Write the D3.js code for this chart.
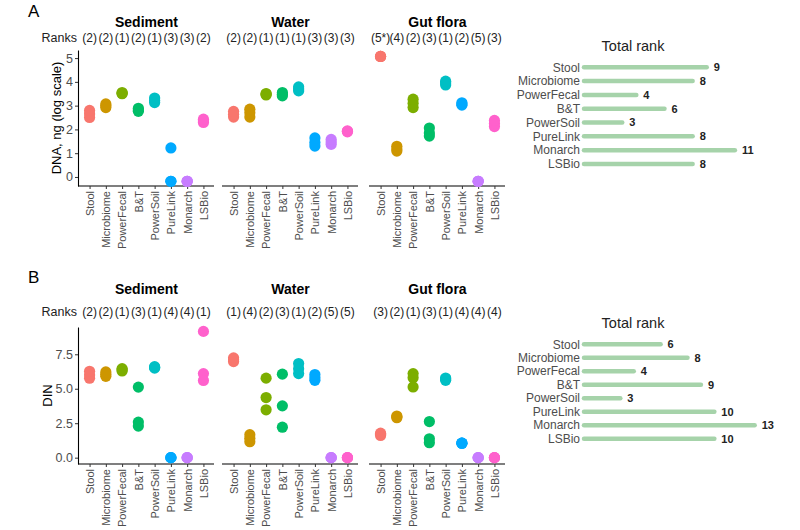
<!DOCTYPE html>
<html>
<head>
<meta charset="utf-8">
<script src="https://cdn.jsdelivr.net/npm/d3@7"></script>
<style>
	body { margin: 0; background: #fff; }
	text { font-family: 'Liberation Sans', Arial, sans-serif; }
</style>
</head>
<body>
<script>
const methods = [ 'Stool', 'Microbiome', 'PowerFecal', 'B&T', 'PowerSoil', 'PureLink', 'Monarch', 'LSBio' ];
const sites = [ 'Sediment', 'Water', 'Gut flora' ];
const methodColors = [ '#F8766D', '#CD9600', '#7CAE00', '#00BE67', '#00BFC4', '#00A9FF', '#C77CFF', '#FF61CC' ];

// A: DNA, ng (log scale) - replicates per method
const dnaSediment = [ [ 2.5, 2.65, 2.8 ], [ 2.92, 3.0, 3.07 ], [ 3.5, 3.52, 3.55 ], [ 2.76, 2.82, 2.89 ], [ 3.13, 3.22, 3.32 ], [ 1.22, -0.18, -0.18 ], [ -0.18, -0.18, -0.18 ], [ 2.29, 2.35, 2.43 ] ];
const dnaWater = [ [ 2.52, 2.64, 2.76 ], [ 2.52, 2.7, 2.85 ], [ 3.45, 3.48, 3.51 ], [ 3.41, 3.48, 3.55 ], [ 3.62, 3.7, 3.79 ], [ 1.3, 1.45, 1.64 ], [ 1.37, 1.47, 1.58 ], [ 1.9, 1.92, 1.94 ] ];
const dnaGut = [ [ 5.07, 5.07, 5.07 ], [ 1.09, 1.18, 1.29 ], [ 2.92, 3.1, 3.27 ], [ 1.72, 1.85, 2.06 ], [ 3.87, 3.95, 4.03 ], [ 3.02, 3.07, 3.12 ], [ -0.18, -0.18, -0.18 ], [ 2.12, 2.25, 2.38 ] ];
const ranksA = [
	[ '(2)', '(2)', '(1)', '(2)', '(1)', '(3)', '(3)', '(2)' ],
	[ '(2)', '(2)', '(1)', '(1)', '(1)', '(3)', '(3)', '(3)' ],
	[ '(5*)', '(4)', '(2)', '(3)', '(1)', '(2)', '(5)', '(3)' ]
];
const totalA = [ 9, 8, 4, 6, 3, 8, 11, 8 ];
const yTicksA = [ 0, 1, 2, 3, 4, 5 ];

// B: DIN - replicates per method
const dinSediment = [ [ 5.76, 6.0, 6.27 ], [ 5.9, 6.05, 6.22 ], [ 6.29, 6.38, 6.46 ], [ 5.12, 2.58, 2.29 ], [ 6.5, 6.55, 6.6 ], [ 0, 0, 0 ], [ 0, 0, 0 ], [ 9.16, 6.1, 5.6 ] ];
const dinWater = [ [ 6.97, 7.1, 7.24 ], [ 1.16, 1.4, 1.67 ], [ 5.77, 4.36, 3.47 ], [ 6.06, 3.76, 2.21 ], [ 6.83, 6.45, 6.1 ], [ 5.61, 5.8, 6.03 ], [ 0, 0, 0 ], [ 0, 0, 0 ] ];
const dinGut = [ [ 1.61, 1.7, 1.78 ], [ 2.9, 2.96, 3.02 ], [ 6.1, 5.8, 5.13 ], [ 2.62, 1.37, 1.08 ], [ 5.61, 5.7, 5.78 ], [ 1.05, 1.05, 1.05 ], [ 0, 0, 0 ], [ 0, 0, 0 ] ];
const ranksB = [
	[ '(2)', '(2)', '(1)', '(3)', '(1)', '(4)', '(4)', '(1)' ],
	[ '(1)', '(4)', '(2)', '(3)', '(1)', '(2)', '(5)', '(5)' ],
	[ '(3)', '(2)', '(1)', '(3)', '(1)', '(4)', '(4)', '(4)' ]
];
const totalB = [ 6, 8, 4, 9, 3, 10, 13, 10 ];
const yTicksB = [ 0, 2.5, 5, 7.5 ];

const width = 800;
const height = 530;
const facetRanges = [ [ 79, 214 ], [ 223, 358 ], [ 370, 505 ] ];
const grey = '#4d4d4d';

const svg = d3.select('body').append('svg').attr('width', width).attr('height', height);

const color = d3.scaleOrdinal().domain(methods).range(methodColors);

function drawRow(cfg) {
	const g = svg.append('g');

	g.append('text').text(cfg.letter).attr('x', 28).attr('y', cfg.letterY).style('font-size', '17px');

	const y = d3.scaleLinear().domain(cfg.yDomain).range([ cfg.plotBottom, cfg.plotTop ]);

	/*
		y axis on first facet only
	*/
	const yAxis = g
		.append('g')
		.attr('transform', `translate(${facetRanges[0][0] - 1},0)`)
		.call(d3.axisLeft(y).tickValues(cfg.yTicks).tickSize(3).tickSizeOuter(0).tickFormat(cfg.tickFormat));
	yAxis.select('.domain').attr('stroke', '#000').attr('stroke-width', 1.1);
	yAxis.selectAll('.tick line').attr('stroke', '#333');
	yAxis.selectAll('.tick text').style('font-size', '12.5px').attr('fill', grey).attr('x', -5);

	g
		.append('text')
		.text(cfg.yLabel)
		.attr('transform', `translate(${cfg.yLabelX},${(cfg.plotTop + cfg.plotBottom) / 2}) rotate(-90)`)
		.attr('text-anchor', 'middle')
		.style('font-size', '13px');

	g
		.append('text')
		.text('Ranks')
		.attr('x', 77)
		.attr('y', cfg.ranksY)
		.attr('text-anchor', 'end')
		.style('font-size', '12.5px')
		.attr('fill', '#222');

	sites.forEach((site, si) => {
		const x = d3.scalePoint().domain(methods).range(facetRanges[si]).padding(0.65);
		const cx = (facetRanges[si][0] + facetRanges[si][1]) / 2;

		g
			.append('text')
			.text(site)
			.attr('x', cx)
			.attr('y', cfg.titleY)
			.attr('text-anchor', 'middle')
			.attr('font-weight', 700)
			.style('font-size', '14px');

		methods.forEach((m, mi) => {
			g
				.append('text')
				.text(cfg.ranks[si][mi])
				.attr('x', x(m))
				.attr('y', cfg.ranksY)
				.attr('text-anchor', 'middle')
				.style('font-size', '12px')
				.attr('fill', '#222');
		});

		const xAxis = g
			.append('g')
			.attr('transform', `translate(0,${cfg.plotBottom})`)
			.call(d3.axisBottom(x).tickSize(3).tickSizeOuter(0));
		xAxis.select('.domain').attr('d', `M${facetRanges[si][0] - 1},0H${facetRanges[si][1]}`).attr('stroke', '#000').attr('stroke-width', 1.1);
		xAxis.selectAll('.tick line').attr('stroke', '#333');
		xAxis
			.selectAll('.tick text')
			.attr('transform', 'rotate(-90)')
			.attr('text-anchor', 'end')
			.attr('x', -5)
			.attr('y', 0)
			.attr('dy', '0.35em')
			.attr('fill', grey)
			.style('font-size', '11px');

		const pts = [];
		cfg.values[si].forEach((reps, mi) => reps.forEach((v) => pts.push({ m: methods[mi], v })));

		g
			.append('g')
			.selectAll('circle')
			.data(pts)
			.join('circle')
			.attr('cx', (d) => x(d.m))
			.attr('cy', (d) => y(d.v))
			.attr('r', 5.6)
			.attr('fill', (d) => color(d.m));
	});

	/*
		total rank bars
	*/
	const tx = d3.scaleLinear().domain([ 0, cfg.totalMax ]).range([ 582, 758 ]);
	const ty = d3.scalePoint().domain(methods).range(cfg.totalRows);

	g
		.append('text')
		.text('Total rank')
		.attr('x', 633)
		.attr('y', cfg.totalTitleY)
		.attr('text-anchor', 'middle')
		.style('font-size', '14.5px')
		.attr('fill', '#222');

	methods.forEach((m, i) => {
		g
			.append('text')
			.text(m)
			.attr('x', 580)
			.attr('y', ty(m))
			.attr('dy', '0.35em')
			.attr('text-anchor', 'end')
			.style('font-size', '12px')
			.attr('fill', grey);

		g
			.append('line')
			.attr('x1', tx(0) + 2)
			.attr('x2', tx(cfg.totals[i]) - 2)
			.attr('y1', ty(m))
			.attr('y2', ty(m))
			.attr('stroke', '#a6d3aa')
			.attr('stroke-width', 4.5)
			.attr('stroke-linecap', 'round');

		g
			.append('text')
			.text(cfg.totals[i])
			.attr('x', tx(cfg.totals[i]) + 5)
			.attr('y', ty(m))
			.attr('dy', '0.35em')
			.attr('font-weight', 700)
			.style('font-size', '11px')
			.attr('fill', '#222');
	});
}

drawRow({
	letter: 'A',
	letterY: 17,
	titleY: 27,
	ranksY: 42,
	plotTop: 50,
	plotBottom: 186,
	yDomain: [ -0.38, 5.34 ],
	yTicks: yTicksA,
	tickFormat: d3.format('d'),
	yLabel: 'DNA, ng (log scale)',
	yLabelX: 61,
	values: [ dnaSediment, dnaWater, dnaGut ],
	ranks: ranksA,
	totals: totalA,
	totalMax: 12.5,
	totalTitleY: 51,
	totalRows: [ 67.3, 164 ]
});

drawRow({
	letter: 'B',
	letterY: 283,
	titleY: 294,
	ranksY: 316,
	plotTop: 327,
	plotBottom: 464,
	yDomain: [ -0.46, 9.48 ],
	yTicks: yTicksB,
	tickFormat: d3.format('.1f'),
	yLabel: 'DIN',
	yLabelX: 52,
	values: [ dinSediment, dinWater, dinGut ],
	ranks: ranksB,
	totals: totalB,
	totalMax: 13.1,
	totalTitleY: 328,
	totalRows: [ 344.3, 438.7 ]
});
</script>
</body>
</html>
